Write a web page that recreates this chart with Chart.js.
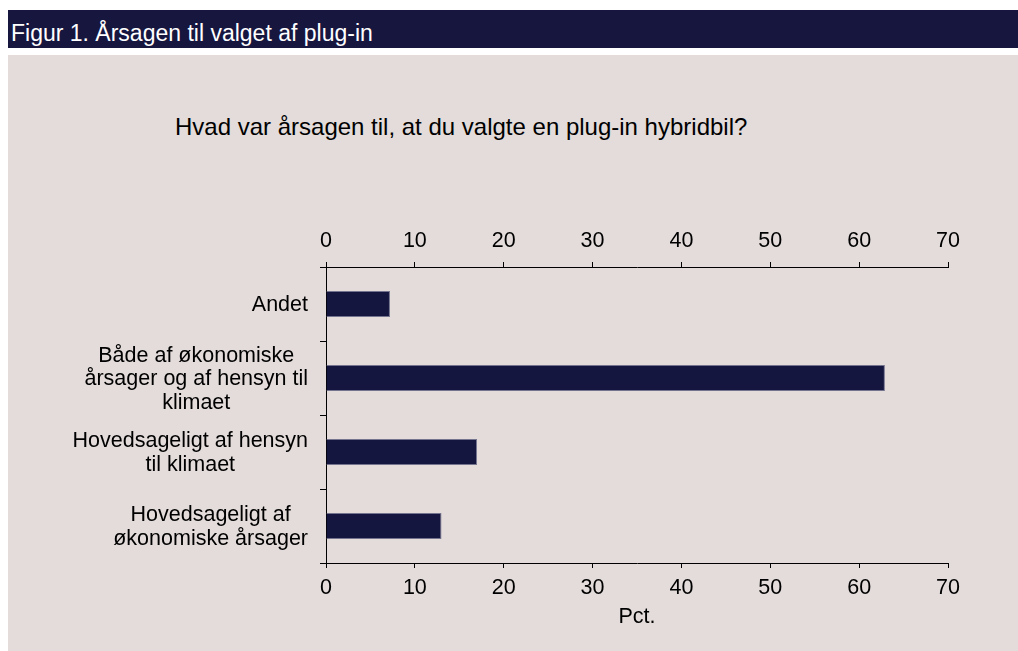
<!DOCTYPE html>
<html>
<head>
<meta charset="utf-8">
<script src="https://cdn.jsdelivr.net/npm/chart.js@4"></script>
<style>
  body { margin: 0; background: #fff; font-family: "Liberation Sans", Arial, sans-serif; }
  #header { position: absolute; left: 8px; top: 10px; width: 1010px; height: 38px; background: #16163f; }
  #header span { position: absolute; left: 3px; top: 12px; font-size: 23px; line-height: 23px; color: #fff; white-space: nowrap; }
  #panel { position: absolute; left: 8px; top: 55px; width: 1010px; height: 596px; background: #e3dcda; }
  #question { position: absolute; left: 167px; top: 60px; font-size: 24px; line-height: 24px; color: #000; white-space: nowrap; }
  #wrap { position: absolute; left: 0; top: 0; width: 1010px; height: 596px; }
</style>
</head>
<body>
<div id="header"><span>Figur 1. Årsagen til valget af plug-in</span></div>
<div id="panel">
  <div id="question">Hvad var årsagen til, at du valgte en plug-in hybridbil?</div>
  <div id="wrap"><canvas id="myChart"></canvas></div>
</div>
<script>
// svarkategorier (linjeskift som i figuren)
const categories = [
  ["Andet"],
  ["Både af økonomiske", "årsager og af hensyn til", "klimaet"],
  ["Hovedsageligt af hensyn", "til klimaet"],
  ["Hovedsageligt af", "økonomiske årsager"]
]
const pct = [7.2, 62.9, 17.0, 13.0]
const xTicks = [0, 10, 20, 30, 40, 50, 60, 70]
const xTitle = "Pct."

Chart.defaults.font.family = '"Liberation Sans", Arial, sans-serif'
Chart.defaults.font.size = 21.5
Chart.defaults.color = '#000'

// kategori-tekster: hver blok hoejrestillet, linjerne centreret i blokken
const catLabels = {
  id: 'catLabels',
  afterDraw(chart) {
    const ctx = chart.ctx
    const y = chart.scales.y
    const right = chart.chartArea.left - 18
    ctx.save()
    ctx.font = '21.5px "Liberation Sans", Arial, sans-serif'
    ctx.fillStyle = '#000'
    ctx.textAlign = 'center'
    ctx.textBaseline = 'alphabetic'
    categories.forEach((lines, i) => {
      const w = Math.max(...lines.map(l => ctx.measureText(l).width))
      const cx = right - w / 2
      const cy = y.getPixelForValue(i)
      lines.forEach((l, k) => {
        ctx.fillText(l, cx, cy + 7 + (k - (lines.length - 1) / 2) * 23.5)
      })
    })
    ctx.restore()
  }
}

const axisX = (pos) => ({
  type: 'linear',
  position: pos,
  min: xTicks[0],
  max: xTicks[xTicks.length - 1],
  ticks: { stepSize: 10, padding: pos === 'top' ? 8 : 7, font: { size: 21.5 }, color: '#000' },
  grid: { drawOnChartArea: false, drawTicks: true, tickLength: 5, color: '#000' },
  border: { display: true, color: '#000', width: 1 }
})

const xBottom = axisX('bottom')
xBottom.title = { display: true, text: xTitle, font: { size: 21.5 }, color: '#000', padding: { top: 0, bottom: 21 } }
xBottom.afterFit = s => { s.height = 88 }
const xTop = axisX('top')
xTop.axis = 'x'
xTop.afterFit = s => { s.height = 212 }

const myChart = document.getElementById('myChart').getContext('2d')
let graph = new Chart(myChart, {
  type: 'bar',
  data: {
    labels: categories,
    datasets: [{
      data: pct,
      backgroundColor: '#15163f',
      borderColor: '#75748f',
      borderWidth: 1,
      borderSkipped: 'start',
      categoryPercentage: 1,
      barPercentage: 0.35
    }]
  },
  options: {
    indexAxis: 'y',
    responsive: true,
    maintainAspectRatio: false,
    animation: false,
    layout: { padding: { left: 0, right: 70, top: 0, bottom: 0 } },
    plugins: { legend: { display: false }, tooltip: { enabled: false } },
    scales: {
      x: xBottom,
      x2: xTop,
      y: {
        type: 'category',
        position: 'left',
        ticks: { display: false },
        grid: { drawOnChartArea: false, drawTicks: true, tickLength: 6, offset: true, color: '#000' },
        border: { display: true, color: '#000', width: 1 },
        afterFit: s => { s.width = 318 }
      }
    }
  },
  plugins: [catLabels]
})
</script>
</body>
</html>
